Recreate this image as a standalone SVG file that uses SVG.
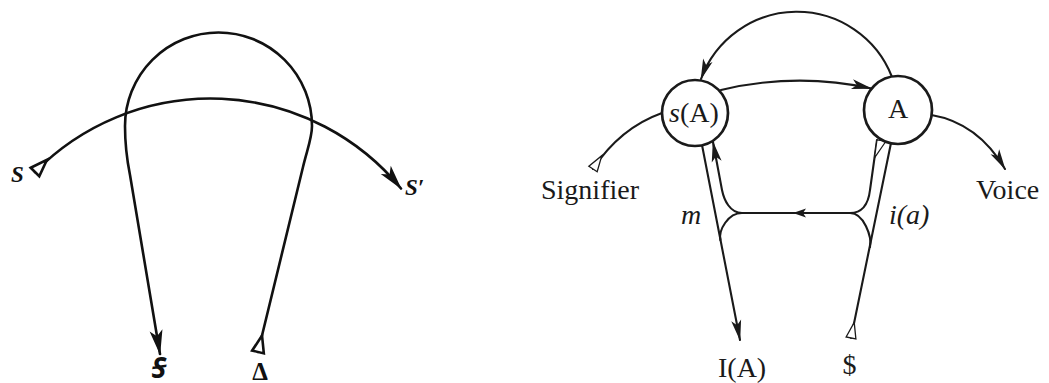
<svg xmlns="http://www.w3.org/2000/svg" width="1049" height="383" viewBox="0 0 1049 383">
<style>
.ln{fill:none;stroke:#111;stroke-width:2.6;stroke-linecap:round;stroke-linejoin:round}
.rl{fill:none;stroke:#1a1a1a;stroke-width:2.1;stroke-linecap:round;stroke-linejoin:round}
.node{fill:#fff;stroke:#1a1a1a;stroke-width:2.7}
.t{font-family:"Liberation Serif","Times New Roman",serif;fill:#1a1a1a;font-size:28px}
.it{font-style:italic}
.lt{font-family:"Liberation Serif","DejaVu Serif","Noto Sans",serif;font-style:italic;font-weight:bold;fill:#111;font-size:23px}
</style>
<defs>
<marker id="aL" markerUnits="userSpaceOnUse" orient="auto" overflow="visible" markerWidth="30" markerHeight="20" viewBox="-26 -10 30 20" refX="0" refY="0">
<path d="M1,0 L-24,-6.5 L-18,0 L-24,6.5 Z" fill="#111"/>
</marker>
<marker id="tL" markerUnits="userSpaceOnUse" orient="auto" overflow="visible" markerWidth="22" markerHeight="16" viewBox="-2 -8 22 16" refX="0" refY="0">
<path d="M0,-6 L17,0 L0,6 Z" fill="#fff" stroke="#111" stroke-width="2.6" stroke-linejoin="miter"/>
</marker>
<marker id="aR" markerUnits="userSpaceOnUse" orient="auto" overflow="visible" markerWidth="26" markerHeight="16" viewBox="-22 -8 26 16" refX="0" refY="0">
<path d="M1,0 L-20,-5 L-15,0 L-20,5 Z" fill="#1a1a1a"/>
</marker>
<marker id="aS" markerUnits="userSpaceOnUse" orient="auto" overflow="visible" markerWidth="16" markerHeight="12" viewBox="-14 -6 16 12" refX="0" refY="0">
<path d="M1,0 L-12,-4.5 L-9,0 L-12,4.5 Z" fill="#1a1a1a"/>
</marker>
<marker id="tR" markerUnits="userSpaceOnUse" orient="auto" overflow="visible" markerWidth="22" markerHeight="14" viewBox="-2 -7 22 14" refX="0" refY="0">
<path d="M0,-5 L16,0 L0,5 Z" fill="#fff" stroke="#1a1a1a" stroke-width="1.3" stroke-linejoin="miter"/>
</marker>
<marker id="tH" markerUnits="userSpaceOnUse" orient="auto" overflow="visible" markerWidth="22" markerHeight="14" viewBox="-2 -12 22 14" refX="0" refY="0">
<path d="M0,0 L0,-9 L18,0 Z" fill="#fff" stroke="#1a1a1a" stroke-width="1.2" stroke-linejoin="miter"/>
</marker>
</defs>

<g id="connectors">
  <!-- left diagram -->
  <path class="ln" d="M258,352 L303,167 C307,150 312,138 312,126 A93.5,93.5 0 0 0 125,126 C125,145 127,160 130,175 L160,354" marker-start="url(#tL)" marker-end="url(#aL)"/>
  <path class="ln" d="M35,172 A246.6,246.6 0 0 1 401,188.5" marker-start="url(#tL)" marker-end="url(#aL)"/>
  <!-- right diagram -->
  <path class="rl" d="M892,77 A102,102 0 0 0 701,79" marker-end="url(#aR)"/>
  <path class="rl" d="M721,90 Q797,72 871.5,88.5" marker-end="url(#aR)"/>
  <path class="rl" d="M593,169 Q620,128 662,113" marker-start="url(#tR)"/>
  <path class="rl" d="M931.5,115 Q978,123 1005,169" marker-end="url(#aR)"/>
  <path class="rl" d="M702,145 L740,340" marker-end="url(#aR)"/>
  <path class="rl" d="M850,213 L794,213" marker-end="url(#aS)"/>
  <path class="rl" d="M796,213 L742,213 C730,213 724,200 722,190 L713,142" marker-end="url(#aR)"/>
  <path class="rl" d="M742,213 C728,213 718.5,230 720.4,240"/>
  <path class="rl" d="M851,338 L891,143" marker-start="url(#tR)"/>
  <path class="rl" d="M870,247 C872,237 864,213 850,213"/>
  <path class="rl" d="M877,140 L870,190 C868.5,203 863,213 850,213" marker-start="url(#tH)"/>
</g>

<g id="label-S"><text class="lt" x="11" y="182">S</text></g>
<g id="label-S-prime"><text class="lt" x="405" y="195">S′</text></g>
<g id="label-barred-S"><text class="lt" x="159" y="378" text-anchor="middle" style="font-size:28px">Ꞩ</text></g>
<g id="label-delta"><text class="lt" x="260" y="380" text-anchor="middle" style="font-style:normal;font-size:25px">Δ</text></g>

<g id="node-sA">
  <circle class="node" cx="695" cy="113" r="33"/>
  <text class="t" x="694" y="122" text-anchor="middle" font-size="27"><tspan class="it">s</tspan>(A)</text>
</g>
<g id="node-A">
  <circle class="node" cx="898" cy="110" r="34"/>
  <text class="t" x="898" y="118" text-anchor="middle" font-size="27">A</text>
</g>
<g id="label-signifier"><text class="t" x="541" y="199">Signifier</text></g>
<g id="label-voice"><text class="t" x="976" y="199">Voice</text></g>
<g id="label-m"><text class="t it" x="681" y="224">m</text></g>
<g id="label-ia"><text class="t it" x="889" y="224">i(a)</text></g>
<g id="label-IA"><text class="t" x="718" y="377">I(A)</text></g>
<g id="label-dollar"><text class="t" x="849.5" y="374" text-anchor="middle">$</text></g>
</svg>
